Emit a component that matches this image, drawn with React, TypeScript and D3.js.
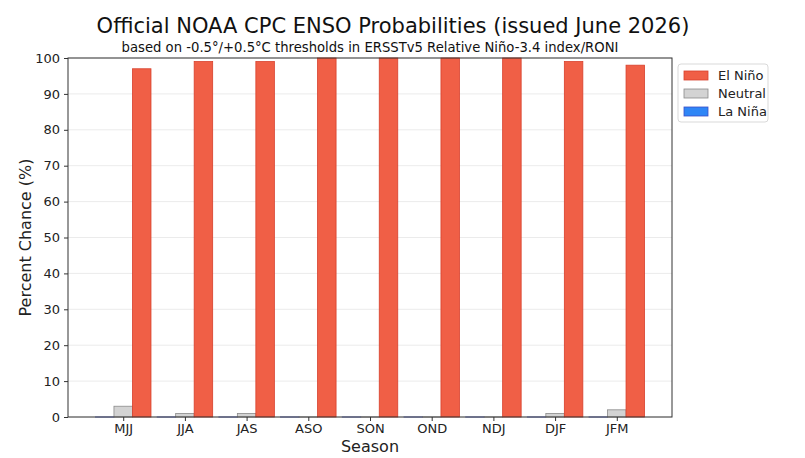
import React, { useEffect, useRef } from 'react';
import * as d3 from 'd3';

const seasons = ['MJJ', 'JJA', 'JAS', 'ASO', 'SON', 'OND', 'NDJ', 'DJF', 'JFM'];
const laNina = [0, 0, 0, 0, 0, 0, 0, 0, 0];
const neutral = [3, 1, 1, 0, 0, 0, 0, 1, 2];
const elNino = [97, 99, 99, 100, 100, 100, 100, 99, 98];
const yTicks = [0, 10, 20, 30, 40, 50, 60, 70, 80, 90, 100];

const series = [
  { name: 'La Niña', values: laNina, offset: -1, fill: '#2f86f6', stroke: '#3a4fc8' },
  { name: 'Neutral', values: neutral, offset: 0, fill: '#d3d3d3', stroke: '#8a8a8a' },
  { name: 'El Niño', values: elNino, offset: 1, fill: '#f05f46', stroke: '#d8402c' },
];

export default function App() {
  const ref = useRef<SVGSVGElement>(null);

  useEffect(() => {
    const svg = d3.select(ref.current);
    svg.selectAll('*').remove();

    const font = 'DejaVu Sans, sans-serif';
    const left = 68, right = 672, top = 58, bottom = 417;
    const barW = 0.3;

    // x is a continuous index scale, like matplotlib's bar positions
    const x = d3.scaleLinear().domain([-0.895, 8.895]).range([left, right]);
    const y = d3.scaleLinear().domain([0, 100]).range([bottom, top]);

    svg.append('rect').attr('width', 805).attr('height', 458).attr('fill', '#fff');

    // grid
    svg.append('g')
      .selectAll('line')
      .data(yTicks)
      .join('line')
      .attr('x1', left).attr('x2', right)
      .attr('y1', d => y(d)).attr('y2', d => y(d))
      .attr('stroke', '#e6e6e6').attr('stroke-width', 0.8);

    // bars (zero-height bars still show their edge line, as in matplotlib)
    series.forEach(s => {
      svg.append('g')
        .selectAll('rect')
        .data(s.values)
        .join('rect')
        .attr('x', (d, i) => x(i + s.offset * barW - barW / 2))
        .attr('width', x(barW) - x(0))
        .attr('y', d => y(d))
        .attr('height', d => Math.max(y(0) - y(d), 0.01))
        .attr('fill', s.fill)
        .attr('stroke', s.stroke)
        .attr('stroke-width', 0.8);
    });

    // frame
    svg.append('rect')
      .attr('x', left).attr('y', top)
      .attr('width', right - left).attr('height', bottom - top)
      .attr('fill', 'none').attr('stroke', '#333').attr('stroke-width', 1);

    // y axis
    const yAxis = svg.append('g')
      .attr('transform', `translate(${left},0)`)
      .call(d3.axisLeft(y).tickValues(yTicks).tickSize(4).tickPadding(4));
    yAxis.select('.domain').remove();
    yAxis.selectAll('line').attr('stroke', '#333');
    yAxis.selectAll('text').attr('font-family', font).attr('font-size', 13).attr('fill', '#222');

    // x axis
    const xAxis = svg.append('g')
      .attr('transform', `translate(0,${bottom})`)
      .call(d3.axisBottom(x).tickValues(d3.range(seasons.length))
        .tickFormat(i => seasons[+i]).tickSize(4).tickPadding(3));
    xAxis.select('.domain').remove();
    xAxis.selectAll('line').attr('stroke', '#333');
    xAxis.selectAll('text').attr('font-family', font).attr('font-size', 13).attr('fill', '#222');

    // labels
    svg.append('text')
      .attr('x', (left + right) / 2).attr('y', 452)
      .attr('text-anchor', 'middle')
      .attr('font-family', font).attr('font-size', 16).attr('fill', '#222')
      .text('Season');

    svg.append('text')
      .attr('transform', `translate(31,${(top + bottom) / 2}) rotate(-90)`)
      .attr('text-anchor', 'middle')
      .attr('font-family', font).attr('font-size', 16).attr('fill', '#222')
      .text('Percent Chance (%)');

    svg.append('text')
      .attr('x', 393).attr('y', 33)
      .attr('text-anchor', 'middle')
      .attr('font-family', font).attr('font-size', 21).attr('fill', '#111')
      .text('Official NOAA CPC ENSO Probabilities (issued June 2026)');

    svg.append('text')
      .attr('x', (left + right) / 2).attr('y', 52)
      .attr('text-anchor', 'middle')
      .attr('font-family', font).attr('font-size', 13.2).attr('fill', '#111')
      .text('based on -0.5°/+0.5°C thresholds in ERSSTv5 Relative Niño-3.4 index/RONI');

    // legend
    const lg = svg.append('g').attr('transform', 'translate(678,64)');
    lg.append('rect')
      .attr('width', 90).attr('height', 58).attr('rx', 3)
      .attr('fill', '#fff').attr('stroke', '#d9d9d9');
    const legendItems = [...series].reverse();
    legendItems.forEach((s, i) => {
      const row = lg.append('g').attr('transform', `translate(6,${6 + i * 18})`);
      row.append('rect')
        .attr('width', 24).attr('height', 9).attr('y', 1)
        .attr('fill', s.fill).attr('stroke', s.stroke).attr('stroke-width', 0.8);
      row.append('text')
        .attr('x', 34).attr('y', 10)
        .attr('font-family', font).attr('font-size', 13).attr('fill', '#222')
        .text(s.name);
    });
  }, []);

  return (
    <svg ref={ref} width={805} height={458}
      style={{ display: 'block', position: 'absolute', left: 0, top: 0 }} />
  );
}
